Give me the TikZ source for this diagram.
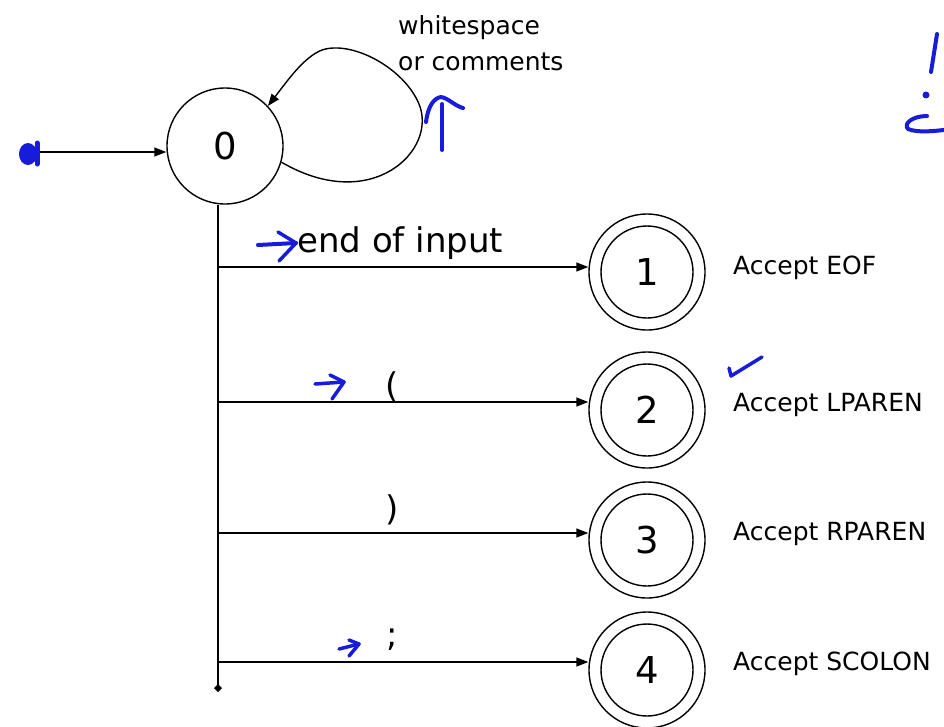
\documentclass[tikz,border=0pt]{standalone}
\usepackage{fontspec}
\setmainfont{DejaVu Sans}
\usetikzlibrary{arrows.meta}
\definecolor{pen}{RGB}{22,28,215}
\tikzset{
  state/.style={circle,draw,line width=1.4pt,minimum size=116pt,inner sep=0pt,
                font=\fontsize{37}{40}\selectfont},
  edge/.style={line width=1.4pt,-{Triangle[length=12pt,width=9pt]}},
  trunk/.style={line width=1.4pt},
  edgelabel/.style={font=\fontsize{34}{40}\selectfont,inner sep=0pt},
  smalllabel/.style={font=\fontsize{25}{36}\selectfont,inner sep=0pt},
  acceptlabel/.style={font=\fontsize{25}{30}\selectfont,inner sep=0pt,anchor=west},
  hand/.style={draw=pen,line width=4pt,line cap=round,line join=round}
}
\begin{document}
\begin{tikzpicture}[x=1pt,y=-1pt]
  \useasboundingbox (0,0) rectangle (944,726);

  % states
  \node[state] (n0) at (225,146) {0};
  \node[state] (c1) at (647,272) {1};
  \node[state] (c2) at (647,410) {2};
  \node[state] (c3) at (647,540) {3};
  \node[state] (c4) at (647,670) {4};
  \foreach \c in {c1,c2,c3,c4}
    \draw[line width=1.4pt] (\c) circle[radius=46];

  % start arrow
  \coordinate (s) at (40,152);
  \draw[edge] (s) -- (s -| n0.west);

  % self loop on state 0
  \draw[edge] (n0.-16) .. controls (372,215) and (438,150) .. (419,104)
              .. controls (404,68) and (352,40) .. (322,50)
              .. controls (304,57) and (288,80) .. (n0.43);
  \node[smalllabel,align=left,anchor=north west] (ws) at (398,15)
       {whitespace\\or comments};

  % trunk from state 0 to the branch points
  \coordinate (j1) at (218,267);
  \coordinate (j2) at (218,402);
  \coordinate (j3) at (218,533);
  \coordinate (j4) at (218,662);
  \coordinate (b) at (218,688);
  \draw[trunk] (b |- n0.south) -- (b);
  \fill (b) +(0,-4) -- +(4,0) -- +(0,4) -- +(-4,0) -- cycle;

  % transitions
  \draw[edge] (j1) -- (j1 -| c1.west);
  \draw[edge] (j2) -- (j2 -| c2.west);
  \draw[edge] (j3) -- (j3 -| c3.west);
  \draw[edge] (j4) -- (j4 -| c4.west);
  \node[edgelabel,anchor=base west] (l1) at (297,252) {end of input};
  \node[edgelabel] (l2) at (392,387) {(};
  \node[edgelabel] (l3) at (392,510) {)};
  \node[edgelabel] (l4) at (392,640) {;};

  % accepting actions
  \node[acceptlabel] (a1) at (733,268) {Accept EOF};
  \node[acceptlabel] (a2) at (733,405) {Accept LPAREN};
  \node[acceptlabel] (a3) at (733,534) {Accept RPAREN};
  \node[acceptlabel] (a4) at (733,664) {Accept SCOLON};

  % pen marks
  \fill[pen] (28,154) ellipse[x radius=9,y radius=11];
  \draw[hand,line width=5pt] (37,143) -- (37,164);
  \draw[hand] (442,150) -- (442,104);
  \draw[hand] (426,122) .. controls (428,106) and (434,98) .. (441,97)
              .. controls (448,98) and (455,106) .. (463,108);
  \draw[hand] (258,245) -- (296,243);
  \draw[hand,line width=3.5pt] (278,232) -- (296,243) -- (279,261);
  \draw[hand,line width=3.5pt] (315,384) -- (344,382);
  \draw[hand,line width=3.5pt] (330,375) -- (344,382) -- (332,399);
  \draw[hand,line width=3.5pt] (339,649) -- (359,644);
  \draw[hand,line width=3.5pt] (349,640) -- (359,644) -- (349,656);
  \draw[hand,line width=3.5pt] (729,368) -- (731,376) -- (762,357);
  \draw[hand] (937,34) -- (931,72);
  \fill[pen] (926,95) circle[radius=3.5];
  \draw[hand] (927,116) .. controls (912,116) and (903,124) .. (908,129)
              .. controls (918,133) and (934,131) .. (944,130);
\end{tikzpicture}
\end{document}
